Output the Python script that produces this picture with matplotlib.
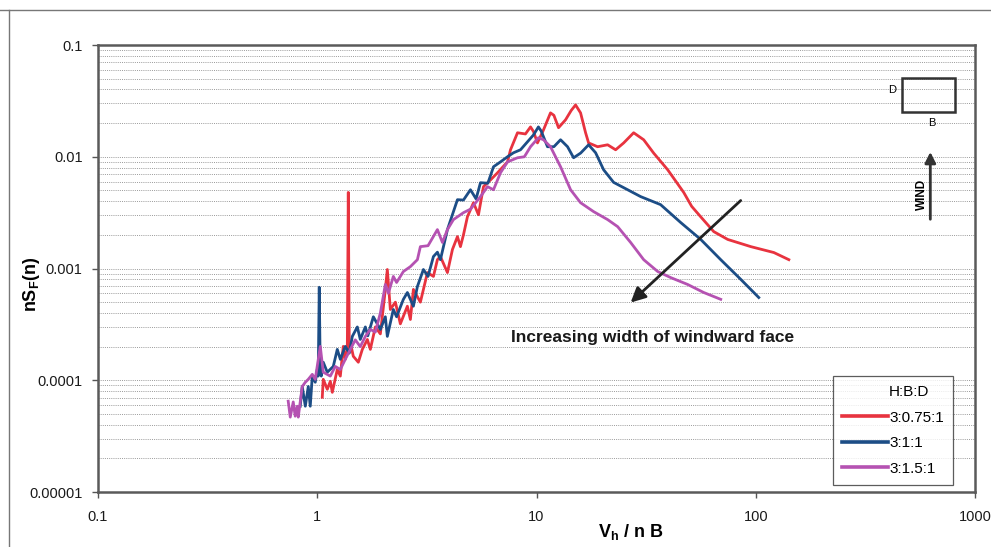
import matplotlib
matplotlib.use("Agg")
import matplotlib.pyplot as plt
from matplotlib.lines import Line2D
from matplotlib.patches import Rectangle
from matplotlib.ticker import FixedLocator, NullFormatter

plt.rcParams['font.family'] = ['Liberation Sans', 'DejaVu Sans']

# Data (V_h / nB vs nS_F(n))
x_red = [1.054, 1.065, 1.111, 1.147, 1.171, 1.234, 1.274, 1.314, 1.342, 1.371, 1.385, 1.40,
         1.415, 1.460, 1.539, 1.605, 1.692, 1.746, 1.840, 1.94, 2.044, 2.087, 2.154, 2.271,
         2.393, 2.576, 2.659, 2.744, 2.953, 3.180, 3.387, 3.531, 3.645, 3.923, 4.135, 4.358,
         4.498, 4.642, 4.841, 5.157, 5.435, 5.728, 6.166, 6.637, 7.373, 7.609, 8.189, 8.9,
         9.389, 9.69, 10.1, 10.76, 11.58, 12.0, 12.6, 13.56, 14.4, 15.07, 15.88, 16.74, 17.28,
         18.99, 21.1, 22.95, 24.97, 27.73, 30.81, 34.2, 39.65, 46.9, 51.0, 56.1, 64.3, 74.5,
         94.9, 120.9, 141.5]
y_red = [7.05e-5, 1.02e-4, 8.3e-5, 9.8e-5, 7.8e-5, 1.25e-4, 1.09e-4, 2.01e-4, 1.54e-4, 1.89e-4, 4.8e-3, 1.8e-4,
         2.18e-4, 1.64e-4, 1.45e-4, 1.89e-4, 2.32e-4, 1.89e-4, 3.0e-4, 2.6e-4, 6.5e-4, 9.8e-4, 4.3e-4, 5.0e-4,
         3.2e-4, 4.6e-4, 3.5e-4, 6.5e-4, 5.0e-4, 9.2e-4, 8.5e-4, 1.2e-3, 1.28e-3, 9.2e-4, 1.48e-3, 1.93e-3,
         1.57e-3, 2.0e-3, 2.91e-3, 3.88e-3, 3.03e-3, 5.4e-3, 6.2e-3, 7.19e-3, 9.0e-3, 1.155e-2, 1.64e-2, 1.6e-2,
         1.85e-2, 1.68e-2, 1.33e-2, 1.74e-2, 2.47e-2, 2.35e-2, 1.82e-2, 2.14e-2, 2.6e-2, 2.91e-2, 2.47e-2, 1.64e-2, 1.33e-2,
         1.23e-2, 1.28e-2, 1.155e-2, 1.33e-2, 1.64e-2, 1.42e-2, 1.08e-2, 7.65e-3, 4.8e-3, 3.6e-3, 2.9e-3, 2.14e-3, 1.82e-3,
         1.57e-3, 1.39e-3, 1.2e-3]

x_blue = [0.836, 0.854, 0.882, 0.910, 0.929, 0.949, 0.979, 1.0, 1.01, 1.021, 1.032, 1.043,
          1.065, 1.111, 1.183, 1.234, 1.274, 1.342, 1.40, 1.445, 1.523, 1.571, 1.657, 1.70,
          1.802, 1.94, 2.044, 2.087, 2.223, 2.3, 2.47, 2.576, 2.744, 2.862, 3.048, 3.2,
          3.387, 3.531, 3.645, 3.923, 4.358, 4.642, 4.996, 5.3, 5.551, 6.0, 6.364, 6.849,
          7.373, 7.852, 8.452, 9.69, 10.2, 10.5, 11.22, 12.0, 12.87, 13.85, 14.76, 15.9,
          17.28, 18.6, 20.23, 22.47, 26.03, 29.85, 36.8, 45.45, 56.1, 69.2, 85.4, 103.2]
y_blue = [5.86e-5, 8.8e-5, 5.86e-5, 8.8e-5, 5.86e-5, 1.09e-4, 9.6e-5, 1.25e-4, 1.09e-4, 6.8e-4, 1.2e-4, 1.09e-4,
          1.45e-4, 1.18e-4, 1.33e-4, 1.89e-4, 1.54e-4, 2.01e-4, 1.75e-4, 2.47e-4, 3.0e-4, 2.32e-4, 3.0e-4, 2.5e-4,
          3.7e-4, 2.85e-4, 3.7e-4, 2.47e-4, 4.3e-4, 3.7e-4, 5.3e-4, 6.1e-4, 4.6e-4, 6.9e-4, 9.8e-4, 8.5e-4,
          1.28e-3, 1.4e-3, 1.2e-3, 2.23e-3, 4.13e-3, 4.1e-3, 5.07e-3, 4.2e-3, 5.86e-3, 5.8e-3, 8.14e-3, 9.0e-3,
          1.0e-2, 1.086e-2, 1.155e-2, 1.57e-2, 1.85e-2, 1.7e-2, 1.23e-2, 1.23e-2, 1.42e-2, 1.23e-2, 9.8e-3, 1.08e-2,
          1.28e-2, 1.086e-2, 7.65e-3, 5.9e-3, 5.07e-3, 4.4e-3, 3.73e-3, 2.58e-3, 1.82e-3, 1.2e-3, 8.0e-4, 5.5e-4]

x_mag = [0.737, 0.753, 0.777, 0.793, 0.810, 0.819, 0.854, 0.882, 0.910, 0.949, 0.979, 1.032,
         1.065, 1.147, 1.208, 1.274, 1.342, 1.415, 1.491, 1.571, 1.657, 1.746, 1.84, 1.94,
         2.044, 2.11, 2.223, 2.3, 2.47, 2.659, 2.862, 2.953, 3.2, 3.531, 3.723, 3.923,
         4.178, 4.642, 5.0, 5.551, 5.975, 6.364, 6.849, 7.373, 8.189, 8.8, 9.389, 10.2,
         10.76, 11.58, 12.87, 14.3, 15.88, 18.21, 21.1, 23.44, 26.87, 30.81, 35.7, 40.9,
         48.9, 57.9, 69.2]
y_mag = [6.5e-5, 4.68e-5, 6.4e-5, 4.77e-5, 5.86e-5, 4.68e-5, 8.8e-5, 9.6e-5, 1.02e-4, 1.13e-4, 1.02e-4, 2.01e-4,
         1.18e-4, 1.09e-4, 1.33e-4, 1.25e-4, 1.54e-4, 1.89e-4, 2.3e-4, 2.0e-4, 2.47e-4, 2.85e-4, 2.7e-4, 4.0e-4,
         7.2e-4, 6.0e-4, 8.5e-4, 7.5e-4, 9.4e-4, 1.04e-3, 1.2e-3, 1.57e-3, 1.6e-3, 2.23e-3, 1.71e-3, 2.23e-3,
         2.74e-3, 3.16e-3, 3.4e-3, 4.4e-3, 5.4e-3, 5.07e-3, 7.19e-3, 9.0e-3, 9.8e-3, 1.0e-2, 1.23e-2, 1.48e-2,
         1.42e-2, 1.23e-2, 8.14e-3, 5.07e-3, 3.88e-3, 3.23e-3, 2.74e-3, 2.37e-3, 1.71e-3, 1.2e-3, 9.4e-4, 8.3e-4,
         7.2e-4, 6.1e-4, 5.3e-4]

series_labels = ["3:0.75:1", "3:1:1", "3:1.5:1"]
x_ticks = [0.1, 1, 10, 100, 1000]
x_ticklabels = ["0.1", "1", "10", "100", "1000"]
y_ticks = [0.00001, 0.0001, 0.001, 0.01, 0.1]
y_ticklabels = ["0.00001", "0.0001", "0.001", "0.01", "0.1"]

fig = plt.figure(figsize=(9.91, 5.47), dpi=100)
ax = fig.add_axes([0.0989, 0.1005, 0.885, 0.8172])

# horizontal dotted grid at every decade step
grid_y = [m * 10.0 ** e for e in range(-5, -1) for m in range(1, 10)]
for gy in grid_y:
    ax.axhline(gy, color="#9a9a9a", lw=0.7, ls=(0, (1, 1.2)), zorder=0)

ax.plot([], [], color="none", label="H:B:D")
ax.plot(x_red, y_red, color="#e8333f", lw=2.0, label=series_labels[0])
ax.plot(x_blue, y_blue, color="#1c4d86", lw=2.0, label=series_labels[1])
ax.plot(x_mag, y_mag, color="#b552b2", lw=2.0, label=series_labels[2])

ax.set_xscale("log")
ax.set_yscale("log")
ax.set_xlim(0.1, 1000)
ax.set_ylim(0.00001, 0.1)
ax.xaxis.set_major_locator(FixedLocator(x_ticks))
ax.set_xticklabels(x_ticklabels)
ax.yaxis.set_major_locator(FixedLocator(y_ticks))
ax.set_yticklabels(y_ticklabels)
ax.xaxis.set_minor_formatter(NullFormatter())
ax.yaxis.set_minor_formatter(NullFormatter())
ax.tick_params(which="minor", length=0)
ax.tick_params(which="major", length=4, width=1, color="#555555", labelsize=10.5,
               labelcolor="#1a1a1a")
ax.tick_params(axis="x", pad=9)
ax.tick_params(axis="y", pad=7)

for s in ax.spines.values():
    s.set_color("#5a5a5a")
    s.set_linewidth(1.8)

ax.set_ylabel("nS$_\\mathregular{F}$(n)", fontsize=13, fontweight="bold")
ax.yaxis.set_label_coords(-0.064, 0.465)
ax.set_xlabel("V$_\\mathregular{h}$ / n B", fontsize=13, fontweight="bold")
ax.xaxis.set_label_coords(0.607, -0.066)

# annotation arrow across the descending branches
ax.annotate("", xy=(26.3, 0.000477), xytext=(87.2, 0.00422),
            arrowprops=dict(arrowstyle="-|>", lw=2, color="#222222", mutation_scale=22))
ax.text(33.8, 0.000242, "Increasing width of windward face", fontsize=12.5,
        fontweight="bold", ha="center", va="center", color="#1a1a1a")

# building plan sketch and wind direction
ax.add_patch(Rectangle((0.917, 0.850), 0.060, 0.076, transform=ax.transAxes,
                       fill=False, ec="#333333", lw=1.8))
ax.text(0.906, 0.899, "D", transform=ax.transAxes, fontsize=8, ha="center", va="center")
ax.text(0.951, 0.826, "B", transform=ax.transAxes, fontsize=8, ha="center", va="center")
ax.annotate("", xy=(0.949, 0.767), xytext=(0.949, 0.604), xycoords="axes fraction",
            arrowprops=dict(arrowstyle="-|>", lw=2, color="#333333", mutation_scale=16))
ax.text(0.940, 0.665, "WIND", transform=ax.transAxes, fontsize=8.5, fontweight="bold",
        rotation=90, ha="center", va="center")

leg = ax.legend(loc="lower right", bbox_to_anchor=(0.975, 0.016), fontsize=11,
                frameon=True, fancybox=False, handlelength=3.0, handletextpad=0.1,
                labelspacing=0.75, borderpad=0.6, borderaxespad=0)
leg.get_frame().set_edgecolor("#333333")
leg.get_frame().set_linewidth(0.9)
for h in leg.get_lines():
    h.set_linewidth(2.6)

# edges of the scanned page
fig.add_artist(Line2D([0, 1], [0.982, 0.982], color="#777777", lw=1))
fig.add_artist(Line2D([0.009, 0.009], [0, 0.982], color="#777777", lw=1))

fig.savefig("out.png", dpi=100)
